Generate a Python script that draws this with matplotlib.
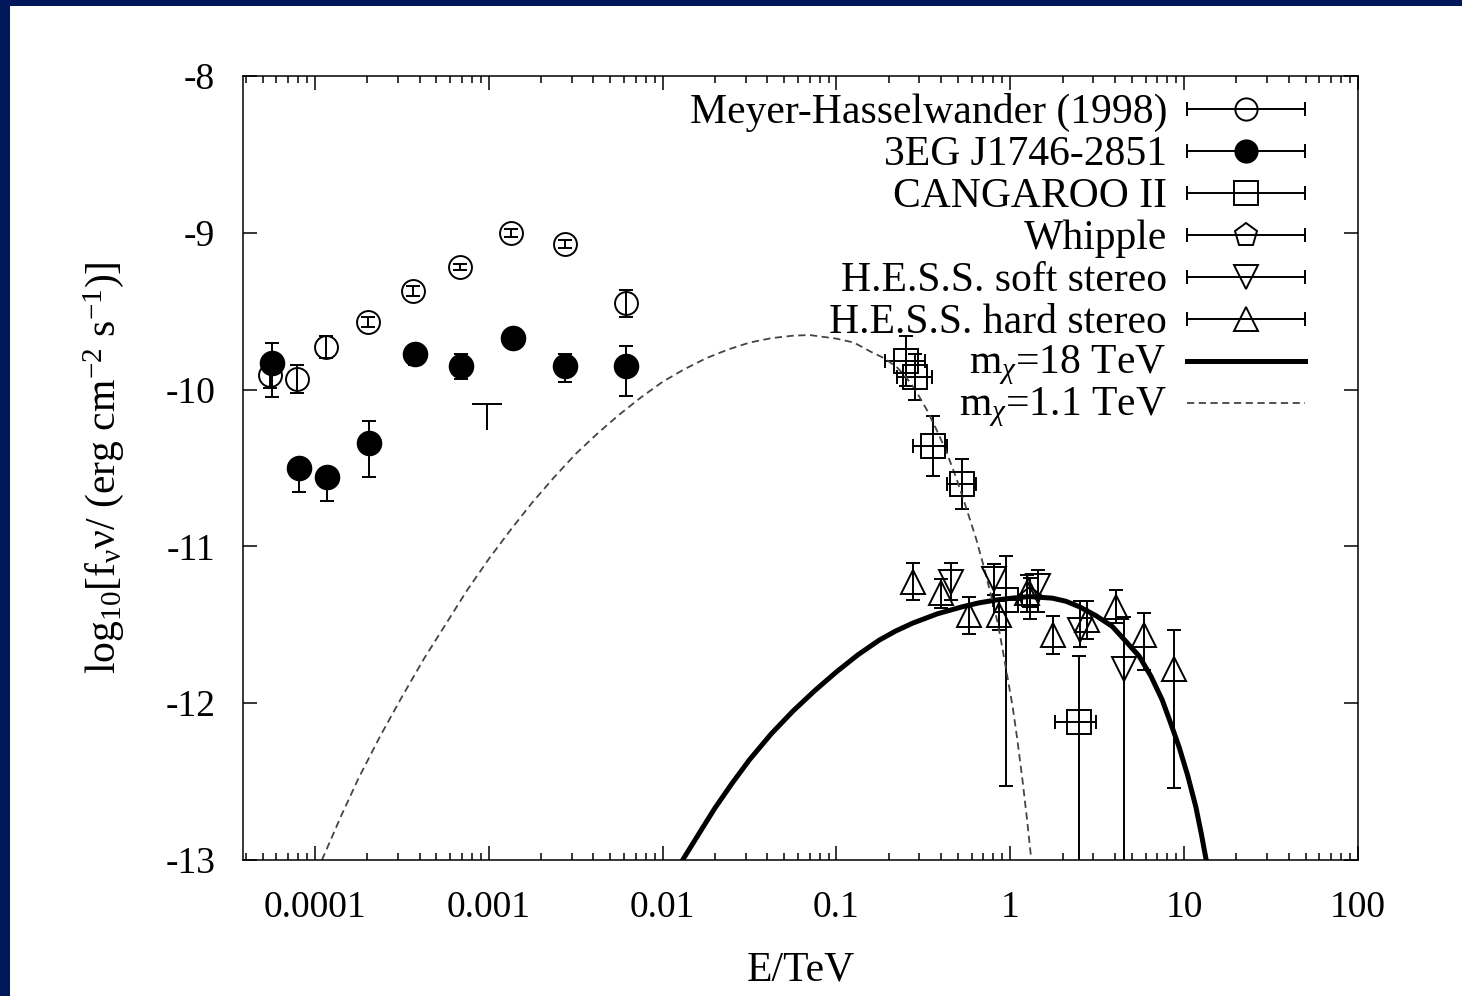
import matplotlib
matplotlib.use("Agg")
import matplotlib.pyplot as plt
import numpy as np
from matplotlib.patches import Rectangle

# Meyer-Hasselwander (1998), EGRET points
mh_e = [5.5e-5, 7.85e-5, 1.15e-4, 2.02e-4, 3.67e-4, 6.8e-4, 1.35e-3, 2.73e-3, 6.18e-3]
mh_y = [-9.91, -9.93, -9.73, -9.57, -9.37, -9.22, -9.00, -9.07, -9.45]
mh_err = [0.08, 0.09, 0.07, 0.03, 0.03, 0.02, 0.025, 0.025, 0.085]

# 3EG J1746-2851
eg_e = [5.64e-5, 8.09e-5, 1.18e-4, 2.05e-4, 3.76e-4, 6.88e-4, 1.37e-3, 2.73e-3, 6.18e-3]
eg_y = [-9.83, -10.50, -10.555, -10.34, -9.77, -9.85, -9.67, -9.85, -9.85]
eg_lo = [0.22, 0.155, 0.155, 0.22, 0.07, 0.08, 0.05, 0.10, 0.19]
eg_hi = [0.13, 0.05, 0.05, 0.14, 0.05, 0.08, 0.05, 0.08, 0.13]
# upper limit near 1 GeV
ul_e = [9.7e-4]
ul_y = [-10.09]
ul_len = [0.17]

# CANGAROO II
cg_e = [0.251, 0.283, 0.357, 0.525, 0.95, 2.47]
cg_y = [-9.82, -9.92, -10.36, -10.60, -11.34, -12.12]
cg_xlo = [0.062, 0.059, 0.080, 0.091, 0.16, 0.66]
cg_xhi = [0.070, 0.073, 0.077, 0.112, 0.22, 0.63]
cg_lo = [0.16, 0.146, 0.19, 0.16, 1.19, 1.9]
cg_hi = [0.16, 0.146, 0.19, 0.16, 0.28, 0.42]

# Whipple
wh_e = [1.30]
wh_y = [-11.33]
wh_err = [0.13]

# H.E.S.S. soft stereo
hs_e = [0.456, 0.81, 1.44, 2.52, 4.52]
hs_y = [-11.225, -11.21, -11.25, -11.53, -11.78]
hs_lo = [0.12, 0.10, 0.17, 0.11, 1.5]
hs_hi = [0.12, 0.10, 0.10, 0.18, 0.33]

# H.E.S.S. hard stereo
hh_e = [0.274, 0.40, 0.58, 0.865, 1.25, 1.77, 2.75, 4.05, 5.9, 8.77]
hh_y = [-11.225, -11.30, -11.44, -11.44, -11.30, -11.565, -11.47, -11.385, -11.565, -11.78]
hh_lo = [0.117, 0.09, 0.12, 0.09, 0.12, 0.12, 0.12, 0.105, 0.225, 0.76]
hh_hi = [0.117, 0.09, 0.12, 0.09, 0.12, 0.12, 0.12, 0.105, 0.14, 0.25]

# neutralino annihilation spectra, energies given as log10(E/TeV)
dm18_loge = [-1.885, -1.79, -1.7, -1.6, -1.5, -1.375, -1.25, -1.125, -1.0, -0.875,
             -0.753, -0.66, -0.563, -0.42, -0.276, -0.18, -0.082, 0.01, 0.109, 0.241,
             0.32, 0.397, 0.49, 0.586, 0.66, 0.741, 0.81, 0.874, 0.92, 0.971,
             1.02, 1.067, 1.10, 1.125]
dm18_y = [-13.0, -12.83, -12.67, -12.51, -12.36, -12.195, -12.05, -11.92, -11.80, -11.69,
          -11.597, -11.54, -11.49, -11.43, -11.385, -11.36, -11.342, -11.33, -11.32, -11.33,
          -11.35, -11.385, -11.44, -11.51, -11.60, -11.70, -11.83, -11.98, -12.12, -12.28,
          -12.46, -12.66, -12.84, -12.99]

dm11_loge = [-3.96, -3.85, -3.75, -3.625, -3.5, -3.375, -3.25, -3.125, -3.0, -2.875,
             -2.75, -2.625, -2.5, -2.375, -2.25, -2.125, -2.0, -1.875, -1.75, -1.625,
             -1.5, -1.375, -1.25, -1.155, -1.0, -0.9, -0.8, -0.725, -0.65, -0.6,
             -0.542, -0.48, -0.427, -0.37, -0.312, -0.255, -0.197, -0.15, -0.1, -0.07,
             -0.044, 0.013, 0.04, 0.071, 0.095, 0.119]
dm11_y = [-13.0, -12.72, -12.48, -12.21, -11.96, -11.72, -11.50, -11.28, -11.08, -10.895,
          -10.72, -10.56, -10.41, -10.28, -10.16, -10.05, -9.95, -9.87, -9.80, -9.745,
          -9.70, -9.672, -9.656, -9.652, -9.675, -9.70, -9.76, -9.80, -9.86, -9.92,
          -10.01, -10.13, -10.25, -10.39, -10.56, -10.75, -10.95, -11.14, -11.36, -11.50,
          -11.66, -12.02, -12.23, -12.5, -12.73, -12.98]

x_ticks = [1e-4, 1e-3, 1e-2, 1e-1, 1, 10, 100]
x_ticklabels = ["0.0001", "0.001", "0.01", "0.1", "1", "10", "100"]
y_ticks = [-13, -12, -11, -10, -9, -8]
y_ticklabels = ["-13", "-12", "-11", "-10", "-9", "-8"]

plt.rcParams["font.family"] = ["Liberation Serif", "DejaVu Serif"]
plt.rcParams["mathtext.fontset"] = "custom"
plt.rcParams["mathtext.rm"] = "Liberation Serif"
plt.rcParams["mathtext.it"] = "Liberation Serif:italic"
plt.rcParams["axes.unicode_minus"] = False

LW = 1.4
CAP = 4.7
DASH = (0, (4, 2.5))

fig = plt.figure(figsize=(14.62, 9.96), dpi=100)
fig.patch.set_facecolor("#00185a")
fig.add_artist(Rectangle((10 / 1462, 0), 1, 1 - 6 / 996, transform=fig.transFigure,
                         facecolor="white", edgecolor="none", zorder=-10))
ax = fig.add_axes([243 / 1462, 1 - 860 / 996, 1115 / 1462, 784 / 996])

eb = dict(color="k", elinewidth=LW, capsize=CAP, capthick=LW, mew=LW, ls="none")

ax.errorbar(mh_e, mh_y, yerr=mh_err, fmt="o", ms=16.5, mfc="none", mec="k", **eb)
ax.errorbar(eg_e, eg_y, yerr=[eg_lo, eg_hi], fmt="o", ms=17, mfc="k", mec="k", **eb)
ax.errorbar(ul_e, ul_y, yerr=[ul_len, [0]], fmt="none", ecolor="k", elinewidth=LW, capsize=0)
ax.plot(ul_e, ul_y, ls="none", marker="_", ms=21, mew=LW, color="k")
ax.errorbar(cg_e, cg_y, xerr=[cg_xlo, cg_xhi], yerr=[cg_lo, cg_hi], fmt="s", ms=17,
            mfc="none", mec="k", **eb)
ax.errorbar(wh_e, wh_y, yerr=wh_err, fmt="p", ms=16, mfc="none", mec="k", **eb)
ax.errorbar(hs_e, hs_y, yerr=[hs_lo, hs_hi], fmt="v", ms=17, mfc="none", mec="k", **eb)
ax.errorbar(hh_e, hh_y, yerr=[hh_lo, hh_hi], fmt="^", ms=17, mfc="none", mec="k", **eb)

ax.plot(10 ** np.array(dm18_loge), dm18_y, color="k", lw=3.6, solid_joinstyle="round")
ax.plot(10 ** np.array(dm11_loge), dm11_y, color="#444444", lw=1.3, ls=DASH)

ax.set_xscale("log")
ax.set_xlim(10 ** -4.414, 100)
ax.set_ylim(-13, -8)
ax.set_xticks(x_ticks)
ax.set_xticklabels(x_ticklabels)
ax.set_yticks(y_ticks)
ax.set_yticklabels(y_ticklabels)
ax.tick_params(which="both", direction="in", top=True, right=True, width=1.1, labelsize=27)
ax.tick_params(which="major", length=10, pad=20)
ax.tick_params(axis="x", which="major", pad=22)
ax.tick_params(which="minor", length=5)
ax.tick_params(axis="y", which="minor", left=False, right=False)
for s in ax.spines.values():
    s.set_linewidth(1.1)

ax.set_xlabel("E/TeV", fontsize=30, labelpad=19)
ax.set_ylabel(r"log$_{\mathrm{10}}$[f$_{\mathrm{ν}}$ν/ (erg cm$^{\mathrm{-2}}$ s$^{\mathrm{-1}}$)]",
              fontsize=30, labelpad=28)

# key, drawn in axes coordinates
labels = ["Meyer-Hasselwander (1998)", "3EG J1746-2851", "CANGAROO II", "Whipple",
          "H.E.S.S. soft stereo", "H.E.S.S. hard stereo",
          r"m$_{\chi}$=18 TeV", r"m$_{\chi}$=1.1 TeV"]
markers = ["o", "o", "s", "p", "v", "^", None, None]
rows = [0.958, 0.9043, 0.8508, 0.7972, 0.7436, 0.690, 0.6365, 0.583]
tx, x0, x1, xc = 0.8287, 0.8466, 0.9525, 0.8996
tr = ax.transAxes
for i, (lab, m, yy) in enumerate(zip(labels, markers, rows)):
    ax.text(tx, yy - 0.005, lab, transform=tr, ha="right", va="center", fontsize=30)
    if m is not None:
        ax.plot([x0, x1], [yy, yy], color="k", lw=LW, transform=tr)
        ax.plot([x0, x1], [yy, yy], ls="none", marker="|", ms=2 * CAP, mew=LW, color="k",
                transform=tr)
        ax.plot([xc], [yy], ls="none", marker=m, ms=17 if m != "o" else 16,
                mfc="k" if i == 1 else "none", mec="k", mew=LW, transform=tr)
    elif i == 6:
        ax.plot([x0, x1], [yy, yy], color="k", lw=3.6, transform=tr)
    else:
        ax.plot([x0, x1], [yy, yy], color="#444444", lw=1.3, ls=DASH, transform=tr)

fig.savefig("out.png", dpi=100)
